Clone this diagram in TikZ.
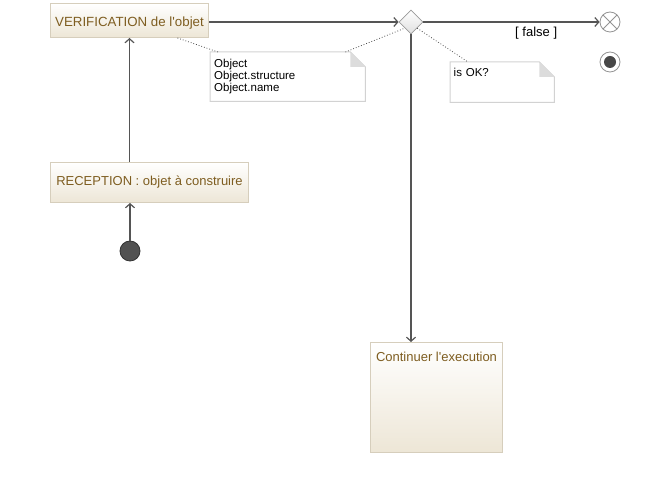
\documentclass[tikz,border=0pt]{standalone}
\usepackage{fontspec}
\setmainfont{Liberation Sans}
\usetikzlibrary{arrows.meta, calc, positioning, shapes.geometric}

\definecolor{boxline}{HTML}{D6CEBC}
\definecolor{boxfill}{HTML}{EDE6D6}
\definecolor{boxtext}{HTML}{7E5D20}
\definecolor{flowline}{HTML}{555555}
\definecolor{noteline}{HTML}{D2D2D2}
\definecolor{foldgray}{HTML}{DCDCDC}

\begin{document}
\begin{tikzpicture}[
    x=1pt, y=-1pt,
    >={Straight Barb[length=4pt, width=9pt]},
    action/.style={rectangle, draw=boxline, line width=1pt, top color=white, bottom color=boxfill,
        text=boxtext, font=\fontsize{13}{15}\selectfont, inner sep=0pt, anchor=north west},
    decision/.style={diamond, draw=gray!80, line width=0.8pt, top color=white, bottom color=gray!25,
        minimum width=24pt, minimum height=24pt, inner sep=0pt},
    start/.style={circle, draw=black!80, fill=black!68, line width=0.8pt, minimum size=20pt, inner sep=0pt},
    flowend/.style={circle, draw=gray!85, fill=white, line width=0.8pt, minimum size=20pt, inner sep=0pt,
        path picture={\draw[gray!85, line width=0.8pt]
            ($(path picture bounding box.center)+(-7,-7)$) -- ($(path picture bounding box.center)+(7,7)$)
            ($(path picture bounding box.center)+(-7,7)$) -- ($(path picture bounding box.center)+(7,-7)$);}},
    stop/.style={circle, draw=gray!85, fill=white, line width=0.8pt, minimum size=20pt, inner sep=0pt,
        path picture={\fill[black!72] (path picture bounding box.center) circle (6pt);}},
    note/.style={rectangle, fill=white, text=black, font=\fontsize{11.5}{12}\selectfont,
        align=left, inner xsep=4pt, inner ysep=5pt, anchor=north west},
    notebox/.style={draw=noteline, line width=1pt},
    flow/.style={->, draw=flowline, line width=1.2pt},
    link/.style={dotted, draw=black!70, line width=0.8pt},
    guard/.style={text=black, font=\fontsize{13}{15}\selectfont, inner sep=1pt}
]
    \useasboundingbox (0,0) rectangle (670,502);

    % Nodes ------------------------------------------------------

    \node[action, minimum width=158pt, minimum height=34pt, text depth=0pt, text height=12pt,
        font=\fontsize{13.3}{15}\selectfont] (verif) at (50,3) {VERIFICATION de l\textquotesingle objet};
    \node[action, minimum width=198pt, minimum height=40pt] (recep) at (50,162) {RECEPTION : objet à construire};
    \node[start] (init) at (130,251) {};
    \node[decision] (dec) at (411,22) {};
    \node[flowend] (fend) at (610,22) {};
    \node[stop] (aend) at (610,62) {};
    \node[action, minimum width=132pt, minimum height=110pt,
        label={[anchor=north, yshift=-10pt, inner sep=0pt, text=boxtext,
            font=\fontsize{13}{15}\selectfont]north:Continuer l\textquotesingle execution}] (cont) at (370,342) {};

    % Notes
    \node[note, text width=147pt, minimum height=49pt, inner ysep=6pt] (note1) at (210,52) {Object\\Object.structure\\Object.name};
    \node[note, text width=97pt, text height=9pt, text depth=21pt, inner xsep=3.5pt] (note2) at (450,62) {is OK?};

    \draw[notebox] (note1.north west) -- ($(note1.north east)+(-15,0)$) -- ($(note1.north east)+(0,15)$)
        -- (note1.south east) -- (note1.south west) -- cycle;
    \fill[foldgray] ($(note1.north east)+(-15,0)$) -- ($(note1.north east)+(-15,15)$) -- ($(note1.north east)+(0,15)$) -- cycle;
    \draw[notebox] (note2.north west) -- ($(note2.north east)+(-15,0)$) -- ($(note2.north east)+(0,15)$)
        -- (note2.south east) -- (note2.south west) -- cycle;
    \fill[foldgray] ($(note2.north east)+(-15,0)$) -- ($(note2.north east)+(-15,15)$) -- ($(note2.north east)+(0,15)$) -- cycle;

    % Arrows ---------------------------------------------------

    \draw[flow] (init) -- (init |- recep.south);
    \draw[flow] (verif.south |- recep.north) -- (verif.south);
    \draw[flow] (verif.east |- dec.west) -- (dec.west);
    \draw[flow] (dec.east) -- node[guard, pos=0.64, below=3pt] {[ false ]} (fend.west);
    \draw[flow] (dec.south) -- (dec.south |- cont.north);

    % Note links
    \draw[link] ($(verif.south)+(48,0)$) -- ($(note1.north west)+(8,0)$);
    \draw[link] ($(note1.north east)+(-20,0)$) -- (dec.south west);
    \draw[link] (dec.south east) -- ($(note2.north west)+(18,0)$);

\end{tikzpicture}
\end{document}
